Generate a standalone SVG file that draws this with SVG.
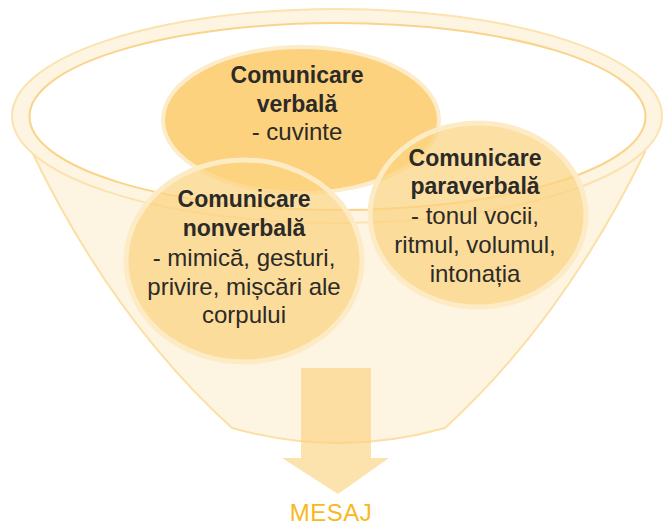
<svg xmlns="http://www.w3.org/2000/svg" width="671" height="526" viewBox="0 0 671 526">
<style>
.t{font-family:"Liberation Sans",Arial,sans-serif;font-size:24px;fill:#2b2a27;text-anchor:middle}
.b{font-weight:bold;font-size:23px}
.bubble{fill:#fbd27f;fill-opacity:0.72;stroke:#fdebc6;stroke-width:5}
</style>
<rect width="671" height="526" fill="#ffffff"/>
<g id="funnel">
<path d="M 32,152 Q 113,320 232,428 Q 338,458 445,428 Q 563,320 645,152 Z" fill="#fef4e2" stroke="#fbe0a6" stroke-width="2"/>
<ellipse cx="337" cy="116" rx="325" ry="107" fill="#fef4e2" stroke="#fbe3b0" stroke-width="2"/>
<ellipse cx="337.5" cy="116.5" rx="308" ry="93.5" fill="#ffffff" stroke="#f9d48a" stroke-width="2"/>
</g>
<g id="verbal">
<ellipse cx="301" cy="120" rx="138" ry="73" fill="#fdd27f" stroke="#fdecc9" stroke-width="4"/>
<text class="t b" x="297" y="83">Comunicare</text>
<text class="t b" x="297" y="112">verbală</text>
<text class="t" x="297" y="140">- cuvinte</text>
</g>
<g id="nonverbal">
<ellipse class="bubble" cx="244" cy="261" rx="118" ry="101"/>
<text class="t b" x="244" y="207">Comunicare</text>
<text class="t b" x="244" y="236">nonverbală</text>
<text class="t" x="244" y="266">- mimică, gesturi,</text>
<text class="t" x="244" y="295">privire, mișcări ale</text>
<text class="t" x="244" y="323">corpului</text>
</g>
<g id="paraverbal">
<ellipse class="bubble" cx="478" cy="215" rx="108" ry="92"/>
<text class="t b" x="475" y="166">Comunicare</text>
<text class="t b" x="475" y="194">paraverbală</text>
<text class="t" x="475" y="224">- tonul vocii,</text>
<text class="t" x="475" y="253">ritmul, volumul,</text>
<text class="t" x="475" y="282">intonația</text>
</g>
<g id="connectors">
<path d="M 301,368 H 371 V 458 H 389 L 338,494 L 282,458 H 301 Z" fill="#fbd27f" fill-opacity="0.65"/>
</g>
<g id="mesaj">
<text x="331" y="521" font-family="Liberation Sans, Arial, sans-serif" font-size="24" letter-spacing="0.5" fill="#f8b91c" text-anchor="middle">MESAJ</text>
</g>
</svg>
